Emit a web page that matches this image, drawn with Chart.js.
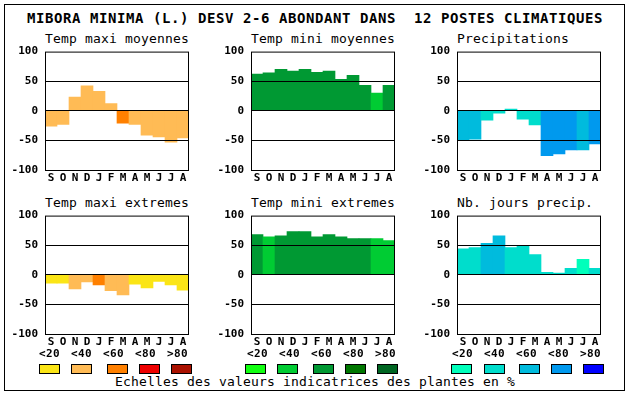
<!DOCTYPE html>
<html>
<head>
<meta charset="utf-8">
<script src="https://cdn.jsdelivr.net/npm/chart.js@4"></script>
<style>
body { margin:0; background:#fff; width:630px; height:394px; position:relative; overflow:hidden; font-family:"DejaVu Sans Mono", monospace; }
#frame { position:absolute; left:4px; top:4px; width:619px; height:385px; border:1px solid #000; }
.txt { position:absolute; white-space:pre; color:#000; }
#title { left:27px; top:11px; font-size:14px; line-height:14px; font-weight:bold; letter-spacing:0.57px; }
.sub { font-size:13px; line-height:13px; letter-spacing:0.17px; }
canvas { position:absolute; }
.sw { position:absolute; width:19px; height:8px; border:1px solid #000; top:364px; }
.lab { font-size:11px; line-height:11px; font-weight:bold; top:348px; letter-spacing:0.4px; }
#foot { left:0; width:630px; text-align:center; top:375px; font-size:13px; line-height:13px; letter-spacing:0.17px; }
</style>
</head>
<body>
<div id="frame"></div>
<div id="title" class="txt">MIBORA MINIMA (L.) DESV 2-6 ABONDANT DANS  12 POSTES CLIMATIQUES</div>
<div id="foot" class="txt">Echelles des valeurs indicatrices des plantes en %</div>
<script>
// months (Sept -> Aug) and the value axis
const months = ['S', 'O', 'N', 'D', 'J', 'F', 'M', 'A', 'M', 'J', 'J', 'A'];
const yTicks = [-100, -50, 0, 50, 100];
const classLabels = ['<20', '<40', '<60', '<80', '>80'];

// colour scales (one per variable family)
const warmColors = ['#fbe516', '#ffbb55', '#ff8000', '#ee0000', '#aa1100'];
const greenColors = ['#11ff11', '#00cc33', '#009933', '#007700', '#006622'];
const blueColors = ['#00ffbb', '#00ddcc', '#00bbdd', '#0099ee', '#0000ff'];

// values, with the class of each bar
const maxiMoy = [-26, -23, 23, 42, 33, 12, -21, -23, -41, -44, -53, -46];
const maxiMoyClass = [1, 1, 1, 1, 1, 1, 2, 1, 1, 1, 1, 1];
const miniMoy = [62, 64, 70, 67, 70, 65, 67, 53, 60, 43, 30, 43];
const miniMoyClass = [2, 2, 2, 2, 2, 2, 2, 2, 2, 2, 1, 2];
const precip = [-49, -48, -16, -4, 3, -14, -24, -76, -73, -66, -66, -56];
const precipClass = [2, 2, 1, 1, 1, 1, 1, 3, 3, 3, 2, 3];
const maxiExt = [-14, -14, -24, -12, -17, -27, -34, -16, -22, -11, -17, -26];
const maxiExtClass = [0, 0, 1, 1, 2, 1, 1, 0, 0, 0, 0, 0];
const miniExt = [68, 64, 66, 73, 73, 64, 68, 64, 61, 61, 61, 58];
const miniExtClass = [2, 1, 2, 2, 2, 2, 2, 2, 2, 2, 1, 1];
const nbJours = [44, 46, 53, 66, 46, 49, 34, 4, 3, 11, 26, 11];
const nbJoursClass = [1, 1, 2, 2, 1, 1, 1, 1, 1, 1, 0, 1];

const colLeft = [45, 251, 457];
const rowTop = [50, 214];

const panels = [
    { title: 'Temp maxi moyennes', data: maxiMoy, cls: maxiMoyClass, pal: warmColors, col: 0, row: 0 },
    { title: 'Temp mini moyennes', data: miniMoy, cls: miniMoyClass, pal: greenColors, col: 1, row: 0 },
    { title: 'Precipitations', data: precip, cls: precipClass, pal: blueColors, col: 2, row: 0 },
    { title: 'Temp maxi extremes', data: maxiExt, cls: maxiExtClass, pal: warmColors, col: 0, row: 1 },
    { title: 'Temp mini extremes', data: miniExt, cls: miniExtClass, pal: greenColors, col: 1, row: 1 },
    { title: 'Nb. jours precip.', data: nbJours, cls: nbJoursClass, pal: blueColors, col: 2, row: 1 }
];

const tickFont = { family: '"DejaVu Sans Mono", monospace', size: 11, weight: 'bold' };

// black box around each plot area
const framePlugin = {
    id: 'frame',
    afterDraw(chart) {
        const a = chart.chartArea;
        const c = chart.ctx;
        c.save();
        c.strokeStyle = '#000';
        c.lineWidth = 1;
        c.strokeRect(a.left + 0.5, a.top + 0.5, a.right - a.left - 1, a.bottom - a.top);
        c.restore();
    }
};

panels.forEach(p => {
    const x0 = colLeft[p.col], y0 = rowTop[p.row];

    const t = document.createElement('div');
    t.className = 'txt sub';
    t.style.left = x0 + 'px';
    t.style.top = (y0 - 18) + 'px';
    t.textContent = p.title;
    document.body.appendChild(t);

    const cv = document.createElement('canvas');
    cv.width = 191;
    cv.height = 154;
    cv.style.left = (x0 - 45) + 'px';
    cv.style.top = (y0 - 12) + 'px';
    document.body.appendChild(cv);

    new Chart(cv.getContext('2d'), {
        type: 'bar',
        data: {
            labels: months,
            datasets: [{
                data: p.data,
                backgroundColor: p.cls.map(k => p.pal[k]),
                borderWidth: 0,
                barPercentage: 1,
                categoryPercentage: 1
            }]
        },
        options: {
            responsive: false,
            animation: false,
            devicePixelRatio: 1,
            layout: { padding: { left: 0, top: 12, right: 2, bottom: 0 } },
            plugins: { legend: { display: false }, tooltip: { enabled: false } },
            scales: {
                x: {
                    grid: { display: false, drawTicks: false },
                    border: { display: false },
                    ticks: { color: '#000', font: tickFont, padding: 2, maxRotation: 0, autoSkip: false },
                    afterFit: s => { s.height = 22; }
                },
                y: {
                    min: -100,
                    max: 100,
                    afterBuildTicks: s => { s.ticks = yTicks.map(v => ({ value: v })); },
                    grid: {
                        z: 1,
                        drawTicks: false,
                        color: c => (Math.abs(c.tick.value) < 100 ? '#000' : 'rgba(0,0,0,0)')
                    },
                    border: { display: false },
                    ticks: { color: '#000', font: tickFont, padding: 7 },
                    afterFit: s => { s.width = 45; }
                }
            }
        },
        plugins: [framePlugin]
    });
});

// legend: class labels and colour swatches under each column
const labLeft = [[39, 71, 103, 135, 167], [247, 279, 311, 343, 375], [452, 484, 516, 548, 580]];
const swLeft = [[39, 71, 107, 139, 171], [245, 277, 313, 345, 377], [451, 484, 519, 551, 583]];
const pals = [warmColors, greenColors, blueColors];
pals.forEach((pal, g) => {
    pal.forEach((col, k) => {
        const l = document.createElement('div');
        l.className = 'txt lab';
        l.style.left = labLeft[g][k] + 'px';
        l.textContent = classLabels[k];
        document.body.appendChild(l);
        const s = document.createElement('div');
        s.className = 'sw';
        s.style.left = swLeft[g][k] + 'px';
        s.style.background = col;
        document.body.appendChild(s);
    });
});
</script>
</body>
</html>
